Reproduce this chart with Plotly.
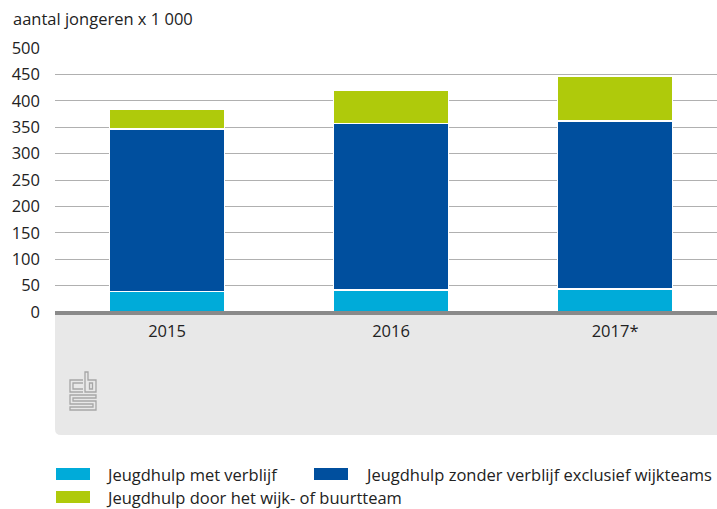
import plotly.graph_objects as go

# ---- data ----
years = ["2015", "2016", "2017*"]
series_names = [
    "Jeugdhulp met verblijf",
    "Jeugdhulp zonder verblijf exclusief wijkteams",
    "Jeugdhulp door het wijk- of buurtteam",
]
met_verblijf = [39, 42, 44]
zonder_verblijf = [308, 315, 318]
wijkteam = [37, 63, 85]
y_ticks = [0, 50, 100, 150, 200, 250, 300, 350, 400, 450, 500]
y_title = "aantal jongeren x 1 000"

colors = ["#00abd9", "#004f9e", "#afca0b"]
FONT = "Open Sans"
FS = 16.5
TXT = "#222222"

W, H = 717, 509
L, R, T, B = 55, 0, 48, 197
PW, PH = W - L - R, H - T - B


def px(x):
    return (x - L) / PW


def py(y):
    return (H - B - y) / PH


fig = go.Figure()
for name, vals, col in zip(series_names, [met_verblijf, zonder_verblijf, wijkteam], colors):
    fig.add_trace(go.Bar(
        x=years, y=vals, name=name, marker_color=col,
        marker_line_color="white", marker_line_width=1.5,
        showlegend=False, hoverinfo="x+y+name",
    ))

shapes = []
# grey band under the axis with rounded lower-left corner
x0, x1, y0, y1, r = px(55), px(717), py(314), py(435), 6
shapes.append(dict(
    type="path", xref="paper", yref="paper", layer="below",
    path=(f"M {x0},{y0} L {x1},{y0} L {x1},{y1} L {px(55 + r)},{y1} "
          f"Q {x0},{y1} {x0},{py(435 - r)} Z"),
    fillcolor="#e8e8e8", line=dict(width=0),
))
# axis line
shapes.append(dict(type="line", xref="paper", yref="paper",
                   x0=0, x1=1, y0=py(313), y1=py(313),
                   line=dict(color="#8a8a8a", width=4)))


# CBS logo (outline)
def logo_path(points, close=False):
    p = "M " + " L ".join(f"{px(a)},{py(b)}" for a, b in points)
    return p + (" Z" if close else "")


logo_col = "#a6a6a6"
logo_paths = [
    # c
    ([(83, 380), (70, 380), (70, 392), (83, 392)], False),
    ([(83, 383), (73, 383), (73, 389), (83, 389)], False),
    # b
    ([(85, 372), (88, 372), (88, 380), (96, 380), (96, 392), (85, 392)], True),
    ([(89.5, 383), (92.5, 383), (92.5, 389), (89.5, 389)], True),
    # s
    ([(96, 395), (70, 395), (70, 404), (93, 404), (93, 407), (70, 407), (70, 410), (96, 410),
      (96, 401), (73, 401), (73, 398), (96, 398)], True),
]
for pts, cl in logo_paths:
    shapes.append(dict(type="path", xref="paper", yref="paper", path=logo_path(pts, cl),
                       line=dict(color=logo_col, width=1.3)))

annotations = [dict(
    text=y_title, xref="paper", yref="paper", x=px(11), y=py(18),
    xanchor="left", yanchor="middle", showarrow=False,
    font=dict(family=FONT, size=FS, color=TXT),
)]

# legend
legend_items = [
    (series_names[0], 56, 474, 104),
    (series_names[1], 314, 474, 363),
    (series_names[2], 56, 497, 104),
]
for (name, sx, cy, tx), col in zip(legend_items, colors):
    shapes.append(dict(type="rect", xref="paper", yref="paper",
                       x0=px(sx), x1=px(sx + 34), y0=py(cy - 6), y1=py(cy + 6),
                       fillcolor=col, line=dict(width=0)))
    annotations.append(dict(
        text=name, xref="paper", yref="paper", x=px(tx), y=py(cy),
        xanchor="left", yanchor="middle", showarrow=False,
        font=dict(family=FONT, size=FS, color=TXT),
    ))

fig.update_layout(
    width=W, height=H,
    margin=dict(l=L, r=R, t=T, b=B, pad=0),
    barmode="stack", bargap=0.487,
    plot_bgcolor="white", paper_bgcolor="white",
    font=dict(family=FONT, size=FS, color=TXT),
    shapes=shapes, annotations=annotations,
    xaxis=dict(range=[-0.5, 2.455], showgrid=False, showline=False, zeroline=False,
               ticks="", ticklabelstandoff=7, tickfont=dict(size=FS, color=TXT)),
    yaxis=dict(range=[0, 500], tickvals=y_ticks, showgrid=True, gridcolor="#b0b0b0",
               gridwidth=1, zeroline=False, showline=False, ticks="",
               ticklabelstandoff=14, tickfont=dict(size=FS, color=TXT)),
)

fig.write_html("out.html", config={"displayModeBar": False},
               post_script="document.body.style.margin='0px';")
